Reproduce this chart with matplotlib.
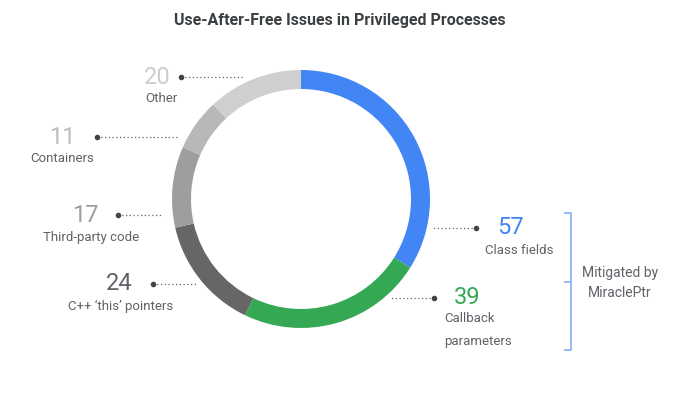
import matplotlib.pyplot as plt
from matplotlib.patches import Wedge

plt.rcParams['font.family'] = ['Roboto', 'DejaVu Sans']

# data, clockwise from 12 o'clock
labels = ['Class fields', 'Callback\nparameters', "C++ \u2018this\u2019 pointers",
          'Third-party code', 'Containers', 'Other']
values = [57, 39, 24, 17, 11, 20]
ring_colors = ['#4285f4', '#34a853', '#666666', '#9e9e9e', '#b8b8b8', '#cfcfcf']
num_colors = ['#4285f4', '#34a853', '#5f6368', '#9e9e9e', '#bdbdbd', '#cccccc']

W, H = 679, 396
fig = plt.figure(figsize=(W / 100, H / 100), dpi=100)
ax = fig.add_axes([0, 0, 1, 1])
ax.set_xlim(0, W)
ax.set_ylim(H, 0)
ax.axis('off')

# donut (drawn with y pointing down, so angles go clockwise)
cx, cy, r, ring_w = 301, 199, 129, 19
total = sum(values)
start = -90.0
for v, c in zip(values, ring_colors):
    span = v / total * 360
    ax.add_patch(Wedge((cx, cy), r, start, start + span, width=ring_w,
                       facecolor=c, edgecolor='none'))
    start += span

ax.text(340, 21, 'Use-After-Free Issues in Privileged Processes', ha='center',
        va='center', fontsize=11.5, fontweight='bold', color='#3c4043')

label_col = '#5f6368'
# (number x, number y, label x, label y, dot x, line end x, label ha)
layout = [
    (510, 228, 519, 250, 476, 433, 'center'),
    (467, 298, 444, 330, 434, 391, 'left'),
    (119, 284, 121, 306, 153, 197, 'center'),
    (85, 215, 91, 237, 118, 162, 'center'),
    (62, 137, 62, 159, 97, 177, 'center'),
    (157, 77, 161, 99, 181, 243, 'center'),
]
for v, lab, nc, (nx, ny, lx, ly, dx, ex, ha) in zip(values, labels, num_colors, layout):
    ax.text(nx, ny, str(v), ha='center', va='center', fontsize=17, color=nc)
    ax.text(lx, ly, lab, ha=ha, va='center', fontsize=9.5, color=label_col,
            linespacing=1.9)
    ax.plot([dx, ex], [ny, ny], linestyle=(0, (1, 2)), color='#5f6368', lw=0.9)
    ax.plot([dx], [ny], 'o', color='#444444', ms=3)

# bracket for MiraclePtr group
bx, by0, by1, btip = 571, 213, 350, 282
bcol = '#8ab4f8'
ax.plot([bx - 6, bx, bx, bx - 6], [by0, by0, by1, by1], color=bcol, lw=1.3)
ax.plot([bx, bx - 6], [btip, btip], color=bcol, lw=1.3)
ax.text(620, 283, 'Mitigated by\nMiraclePtr', ha='center', va='center',
        fontsize=10, color=label_col, linespacing=1.5)

fig.savefig('out.png', dpi=100)
